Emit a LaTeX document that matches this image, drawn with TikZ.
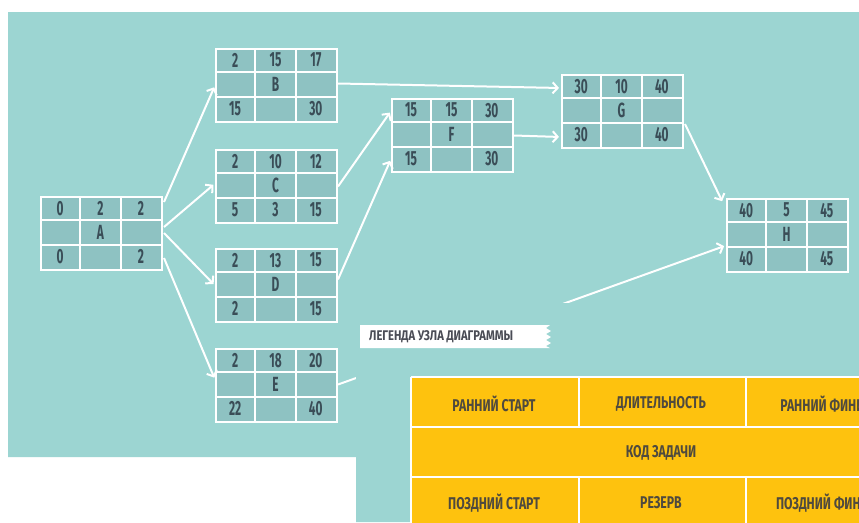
\documentclass[tikz,border=0pt]{standalone}
\usepackage{fontspec}
\setmainfont{Fira Sans}
\newfontfamily\numfont{Fira Sans}[FakeStretch=0.58]
\newfontfamily\legfont{Fira Sans}[FakeStretch=0.72]
\newfontfamily\tapefont{Fira Sans}[FakeStretch=0.8]
\usetikzlibrary{arrows.meta,calc}
\definecolor{bgteal}{HTML}{9CD5D2}
\definecolor{cellteal}{HTML}{8EC2C2}
\definecolor{txtdark}{HTML}{3A4D57}
\definecolor{legyellow}{HTML}{FEC20E}
\definecolor{legtext}{HTML}{4F4A3E}
\definecolor{tapetext}{HTML}{4A4C55}
\tikzset{
  pbox/.style={draw=white, line width=2pt, fill=cellteal, minimum width=121pt, minimum height=73pt, inner sep=0pt, anchor=north west},
  gridline/.style={draw=white, line width=2pt},
  num/.style={font=\numfont\bfseries\fontsize{20.5}{20.5}\selectfont, text=txtdark, inner sep=0pt},
  conn/.style={draw=white, line width=2pt, -{Straight Barb[length=5pt,width=11pt,line width=2pt]}, shorten >=2pt},
  legcell/.style={font=\legfont\bfseries\fontsize{17}{17}\selectfont, text=legtext, inner sep=0pt},
  tapelabel/.style={font=\tapefont\bfseries\fontsize{14}{14}\selectfont, text=tapetext, inner sep=0pt, anchor=west}
}
% #1 name, #2 top-left, #3-#5 top row, #6 code, #7-#9 bottom row
\newcommand\pertbox[9]{%
  \node[pbox] (#1) at (#2) {};
  \draw[gridline] ($(#1.north west)+(0,24.33)$) -- ++(121,0);
  \draw[gridline] ($(#1.north west)+(0,48.67)$) -- ++(121,0);
  \draw[gridline] ($(#1.north west)+(40.33,0)$) -- ++(0,73);
  \draw[gridline] ($(#1.north west)+(80.67,0)$) -- ++(0,73);
  \node[num] (#1-t1) at ($(#1.north west)+(20.17,12.17)$) {#3};
  \node[num] (#1-t2) at ($(#1.north west)+(60.5,12.17)$) {#4};
  \node[num] (#1-t3) at ($(#1.north west)+(100.83,12.17)$) {#5};
  \node[num] (#1-m)  at ($(#1.north west)+(60.5,36.5)$) {#6};
  \node[num] (#1-b1) at ($(#1.north west)+(20.17,60.83)$) {#7};
  \node[num] (#1-b2) at ($(#1.north west)+(60.5,60.83)$) {#8};
  \node[num] (#1-b3) at ($(#1.north west)+(100.83,60.83)$) {#9};
}
\begin{document}
\begin{tikzpicture}[x=1pt,y=-1pt]
\useasboundingbox (0,0) rectangle (859,522);
\clip (0,0) rectangle (859,522);
\fill[white] (0,0) rectangle (859,522);
\fill[bgteal] (8,12) -- (859,12) -- (859,522) -- (356,522) -- (356,457) -- (8,457) -- cycle;

\pertbox{A}{40,196}{0}{2}{2}{A}{0}{}{2}
\pertbox{B}{215,48}{2}{15}{17}{B}{15}{}{30}
\pertbox{C}{215,149}{2}{10}{12}{C}{5}{3}{15}
\pertbox{D}{215,248}{2}{13}{15}{D}{2}{}{15}
\pertbox{E}{215,348}{2}{18}{20}{E}{22}{}{40}
\pertbox{F}{391,98}{15}{15}{30}{F}{15}{}{30}
\pertbox{G}{561,74}{30}{10}{40}{G}{30}{}{40}
\pertbox{H}{726,198}{40}{5}{45}{H}{40}{}{45}

% connectors
\draw[conn] ($(A.north east)+(1,6)$) -- (B.west);
\draw[conn] ($(A.north east)+(1,31)$) -- ($(C.west)+(0,-3)$);
\draw[conn] ($(A.north east)+(1,37)$) -- (D.west);
\draw[conn] ($(A.north east)+(1,62)$) -- ($(E.west)+(0,-6)$);
\draw[conn] ($(B.east)+(0,-2)$) -- ($(G.north west)+(0,14)$);
\draw[conn] (C.east) -- ($(F.north west)+(0,13)$);
\draw[conn] ($(D.east)+(0,-6)$) -- ($(F.south west)+(0,-14)$);
\draw[conn] (F.east) -- ($(G.south west)+(0,-12)$);
\draw[conn] ($(G.south east)+(1,-25)$) -- ($(H.north west)+(-3,5)$);
\draw[conn] ($(E.east)+(0,-1)$) -- ($(H.west)+(0,10)$);

% legend panel covering part of the E-H connector
\fill[bgteal] (356,303) rectangle (859,522);

% legend tape label
\fill[white] (360,325) -- (550,325) -- (546,328) -- (551,331) -- (546,334) -- (551,337) -- (546,340) -- (551,343) -- (546,346) -- (550,348) -- (360,348) -- cycle;
\node[tapelabel] (tape) at (369,337) {ЛЕГЕНДА УЗЛА ДИАГРАММЫ};

% legend table
\fill[legyellow] (411,377) rectangle (940,540);
\draw[gridline] (411,377) -- (940,377);
\draw[gridline] (411,377) -- (411,540);
\draw[gridline] (411,427) -- (940,427);
\draw[gridline] (411,477) -- (940,477);
\draw[gridline] (579,377) -- (579,427);
\draw[gridline] (746,377) -- (746,427);
\draw[gridline] (579,477) -- (579,540);
\draw[gridline] (746,477) -- (746,540);
\node[legcell] (les) at (494,404) {РАННИЙ СТАРТ};
\node[legcell] (ldur) at (661,404) {ДЛИТЕЛЬНОСТЬ};
\node[legcell] (lef) at (828,404) {РАННИЙ ФИНИШ};
\node[legcell] (lcode) at (661,453) {КОД ЗАДАЧИ};
\node[legcell] (lls) at (494,503) {ПОЗДНИЙ СТАРТ};
\node[legcell] (lslack) at (661,503) {РЕЗЕРВ};
\node[legcell] (llf) at (828,503) {ПОЗДНИЙ ФИНИШ};
\end{tikzpicture}
\end{document}
